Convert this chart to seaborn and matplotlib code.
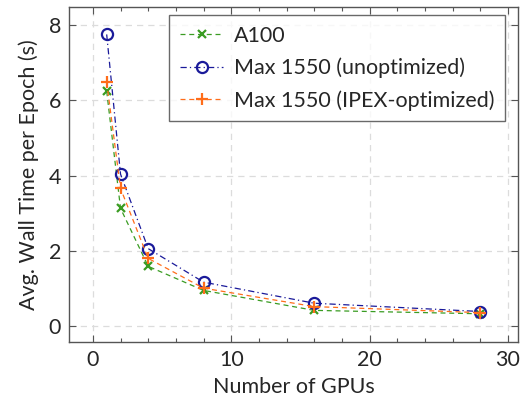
import matplotlib
matplotlib.use("Agg")
import matplotlib.pyplot as plt
import seaborn as sns
import pandas as pd
from matplotlib.ticker import MultipleLocator

gpus = [1, 2, 4, 8, 16, 28]
a100 = [6.24, 3.13, 1.59, 0.95, 0.42, 0.33]
max1550_unopt = [7.75, 4.04, 2.06, 1.17, 0.61, 0.39]
max1550_ipex = [6.48, 3.66, 1.80, 1.01, 0.52, 0.36]
labels = ["A100", "Max 1550 (unoptimized)", "Max 1550 (IPEX-optimized)"]

sns.set_theme(style="white")
plt.rcParams['font.family'] = ['Lato', 'DejaVu Sans']

FS = 15.5
fig = plt.figure(figsize=(5.22, 4.0), dpi=100)
ax = fig.add_axes([0.1328, 0.145, 0.859, 0.8367])

series = [
    (a100, labels[0], dict(color="#3a9c22", marker="x", ms=6, mew=1.6, dashes=(4, 3), mfc="#3a9c22")),
    (max1550_unopt, labels[1], dict(color="#1a1a9a", marker="o", ms=8, mew=1.6, dashes=(5, 2.5, 1, 2.5), mfc="none")),
    (max1550_ipex, labels[2], dict(color="#ff6d1a", marker="+", ms=9, mew=1.6, dashes=(4, 3), mfc="#ff6d1a")),
]
for vals, lab, st in series:
    df = pd.DataFrame({"gpus": gpus, "t": vals})
    sns.lineplot(data=df, x="gpus", y="t", ax=ax, label=lab, color=st["color"],
                 marker=st["marker"], markersize=st["ms"], markeredgewidth=st["mew"],
                 markerfacecolor=st["mfc"], markeredgecolor=st["color"],
                 dashes=st["dashes"], linewidth=0.9)

ax.set_xlim(-1.7, 30.7)
ax.set_ylim(-0.42, 8.47)
ax.xaxis.set_major_locator(MultipleLocator(10))
ax.xaxis.set_minor_locator(MultipleLocator(2))
ax.yaxis.set_major_locator(MultipleLocator(2))

ax.grid(True, which="major", color="#dcdcdc", linestyle=(0, (5, 4)), linewidth=0.9)
for s in ax.spines.values():
    s.set_color("#555555")
    s.set_linewidth(1.0)
ax.tick_params(which="major", direction="in", length=5, width=0.8, color="#555555",
               top=True, right=True, bottom=True, left=True, labelsize=FS, pad=6)
ax.tick_params(which="minor", direction="in", length=3, width=0.8, color="#555555",
               top=True, bottom=True)
ax.tick_params(axis="y", which="minor", left=False, right=False)

ax.set_xlabel("Number of GPUs", fontsize=FS, labelpad=5)
ax.set_ylabel("Avg. Wall Time per Epoch (s)", fontsize=FS, labelpad=7)

leg = ax.legend(loc="upper right", bbox_to_anchor=(0.972, 0.977), borderaxespad=0,
                fontsize=FS, frameon=True, fancybox=False, handlelength=2.0,
                labelspacing=0.55, borderpad=0.5, handletextpad=0.5)
leg.get_frame().set_edgecolor("#444444")
leg.get_frame().set_linewidth(1.0)

fig.savefig("out.png", dpi=100)
